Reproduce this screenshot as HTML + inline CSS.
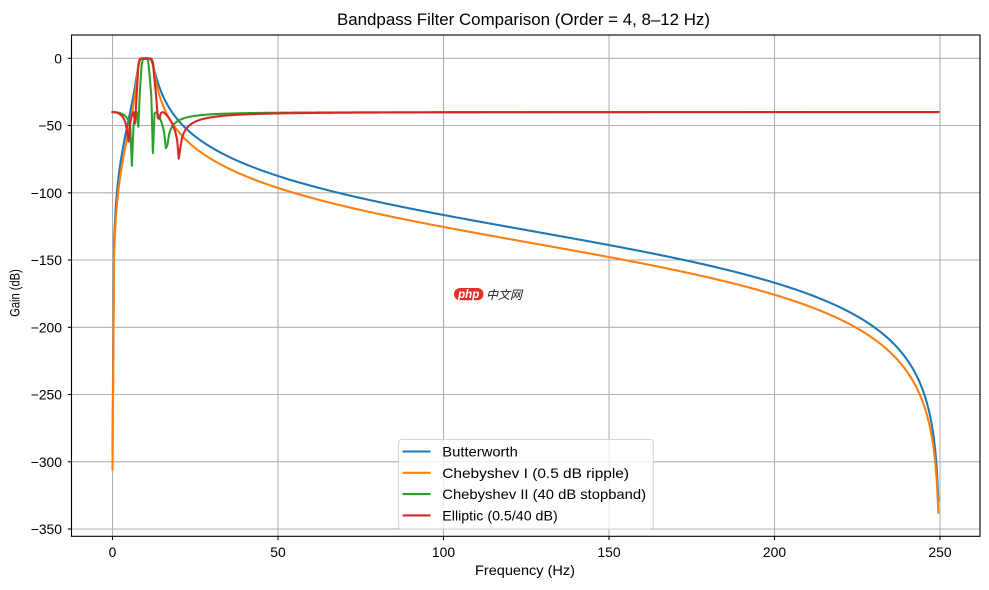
<!DOCTYPE html>
<html><head><meta charset="utf-8">
<style>
html,body{margin:0;padding:0;background:#fff;}
svg{display:block;}
text{font-family:"Liberation Sans","Noto Sans CJK SC",sans-serif;fill:#000;}
</style></head>
<body>
<svg id="s" width="989" height="590" viewBox="0 0 989 590" xmlns="http://www.w3.org/2000/svg">
<rect width="989" height="590" fill="#fff"/>
<defs><clipPath id="c"><rect x="71.5" y="35" width="908.5" height="501.3"/></clipPath></defs>
<g stroke="#b0b0b0" stroke-width="1.1">
<line x1="112.5" y1="35" x2="112.5" y2="536.3"/>
<line x1="278" y1="35" x2="278" y2="536.3"/>
<line x1="443.5" y1="35" x2="443.5" y2="536.3"/>
<line x1="609" y1="35" x2="609" y2="536.3"/>
<line x1="774.5" y1="35" x2="774.5" y2="536.3"/>
<line x1="940" y1="35" x2="940" y2="536.3"/>
<line x1="71.5" y1="58.3" x2="980" y2="58.3"/>
<line x1="71.5" y1="125.5" x2="980" y2="125.5"/>
<line x1="71.5" y1="192.8" x2="980" y2="192.8"/>
<line x1="71.5" y1="260" x2="980" y2="260"/>
<line x1="71.5" y1="327.3" x2="980" y2="327.3"/>
<line x1="71.5" y1="394.5" x2="980" y2="394.5"/>
<line x1="71.5" y1="461.8" x2="980" y2="461.8"/>
<line x1="71.5" y1="529" x2="980" y2="529"/>
</g>
<g id="curves" clip-path="url(#c)" fill="none" stroke-width="2.08" stroke-linejoin="round" stroke-linecap="square"></g>
<rect x="71.5" y="35" width="908.5" height="501.3" fill="none" stroke="#000" stroke-width="1.1"/>
<g stroke="#000" stroke-width="1.1">
<line x1="112.5" y1="536.3" x2="112.5" y2="540"/>
<line x1="278" y1="536.3" x2="278" y2="540"/>
<line x1="443.5" y1="536.3" x2="443.5" y2="540"/>
<line x1="609" y1="536.3" x2="609" y2="540"/>
<line x1="774.5" y1="536.3" x2="774.5" y2="540"/>
<line x1="940" y1="536.3" x2="940" y2="540"/>
<line x1="71.5" y1="58.3" x2="67.8" y2="58.3"/>
<line x1="71.5" y1="125.5" x2="67.8" y2="125.5"/>
<line x1="71.5" y1="192.8" x2="67.8" y2="192.8"/>
<line x1="71.5" y1="260" x2="67.8" y2="260"/>
<line x1="71.5" y1="327.3" x2="67.8" y2="327.3"/>
<line x1="71.5" y1="394.5" x2="67.8" y2="394.5"/>
<line x1="71.5" y1="461.8" x2="67.8" y2="461.8"/>
<line x1="71.5" y1="529" x2="67.8" y2="529"/>
</g>
<g font-size="13.9" text-anchor="middle">
<text x="112.5" y="557">0</text>
<text x="278" y="557">50</text>
<text x="443.5" y="557">100</text>
<text x="609" y="557">150</text>
<text x="774.5" y="557">200</text>
<text x="940" y="557">250</text>
</g>
<g font-size="13.9" text-anchor="end">
<text x="62" y="63.3">0</text>
<text x="62" y="130.5">−50</text>
<text x="62" y="197.8">−100</text>
<text x="62" y="265">−150</text>
<text x="62" y="332.3">−200</text>
<text x="62" y="399.5">−250</text>
<text x="62" y="466.8">−300</text>
<text x="62" y="534">−350</text>
</g>
<text x="523.5" y="25" font-size="16.7" text-anchor="middle" textLength="373" lengthAdjust="spacingAndGlyphs">Bandpass Filter Comparison (Order = 4, 8–12 Hz)</text>
<text x="525" y="575" font-size="13.9" text-anchor="middle" textLength="100" lengthAdjust="spacingAndGlyphs">Frequency (Hz)</text>
<text transform="translate(19.5,293) rotate(-90) scale(0.8,1)" x="0" y="0" font-size="13.9" text-anchor="middle">Gain (dB)</text>

<rect x="454" y="288" width="29.5" height="12.2" rx="6" fill="#e4312b"/>
<text x="468.7" y="297.8" font-size="11.5" font-style="italic" font-weight="bold" text-anchor="middle" style="fill:#fff">php</text>
<text x="486" y="299" font-size="12" font-style="italic" style="fill:#222" textLength="36" lengthAdjust="spacingAndGlyphs">中文网</text>

<rect x="398.5" y="439.5" width="254.8" height="89.5" rx="3" fill="#fff" fill-opacity="0.8" stroke="#cccccc" stroke-opacity="0.8" stroke-width="1.1"/>
<g stroke-width="2.08">
<line x1="402.5" y1="451.5" x2="430.5" y2="451.5" stroke="#1f77b4"/>
<line x1="402.5" y1="472.8" x2="430.5" y2="472.8" stroke="#ff7f0e"/>
<line x1="402.5" y1="494.1" x2="430.5" y2="494.1" stroke="#2ca02c"/>
<line x1="402.5" y1="515.4" x2="430.5" y2="515.4" stroke="#d62728"/>
</g>
<g font-size="13.9">
<text x="442.3" y="456.5" textLength="75.5" lengthAdjust="spacingAndGlyphs">Butterworth</text>
<text x="442.3" y="477.8" textLength="186.7" lengthAdjust="spacingAndGlyphs">Chebyshev I (0.5 dB ripple)</text>
<text x="442.3" y="499.1" textLength="203.7" lengthAdjust="spacingAndGlyphs">Chebyshev II (40 dB stopband)</text>
<text x="442.3" y="520.4" textLength="115.4" lengthAdjust="spacingAndGlyphs">Elliptic (0.5/40 dB)</text>
</g>
</svg>
<script>
(function(){
var K=Math.PI/500;
var O1=Math.tan(K*8),O2=Math.tan(K*12);
var w0s=O1*O2,BW=O2-O1;
function xlp(f){if(f<=0)return 1e12;var O=Math.tan(K*f);return Math.abs((O*O-w0s)/(O*BW));}
function T4(y){var y2=y*y;return 8*y2*y2-8*y2+1;}
var e1=Math.pow(10,0.05)-1;
var e2=1/(Math.pow(10,4)-1);
function R2(xi,x){var t=Math.sqrt(1-1/(xi*xi));var x2=x*x;return ((t+1)*x2-1)/((t-1)*x2+1);}
function R4(xi,x){var L2=R2(xi,xi);return R2(L2,R2(xi,x));}
var Lt=Math.sqrt((Math.pow(10,4)-1)/e1);
var lo=1.0001,hi=100;
for(var i=0;i<200;i++){var m=(lo+hi)/2;if(Math.abs(R4(m,m))<Lt)lo=m;else hi=m;}
var xi=(lo+hi)/2;
function cl(v){if(!isFinite(v)||isNaN(v))return -400;return Math.max(v,-400);}
function gB(f){var x=xlp(f);return cl(-10*Math.log10(1+Math.pow(x,8)));}
function gC1(f){var x=xlp(f);var T=T4(x);return cl(-10*Math.log10(1+e1*T*T));}
function gC2(f){var x=Math.max(xlp(f),1e-9);var T=T4(1/x);var a=e2*T*T;return cl(10*Math.log10(Math.max(a,1e-40)/(1+a)));}
function gE(f){var x=xlp(f);var R=R4(xi,x);return cl(-10*Math.log10(1+e1*R*R));}
function px(f){return 112.5+3.31*f;}
function py(v){return 58.3-1.3449*v;}
var N=512;
var fns=[[gB,'#1f77b4',-293],[gC1,'#ff7f0e',-306],[gC2,'#2ca02c',null],[gE,'#d62728',null]];
var g=document.getElementById('curves');
var ns='http://www.w3.org/2000/svg';
fns.forEach(function(s){
  var d='';
  for(var k=0;k<N;k++){
    var f=k*250/N;
    var v=s[0](f);
    if(k===0&&s[2]!==null)v=s[2];
    d+=(k===0?'M':'L')+px(f).toFixed(2)+' '+py(v).toFixed(2);
  }
  var p=document.createElementNS(ns,'path');
  p.setAttribute('d',d);p.setAttribute('stroke',s[1]);
  g.appendChild(p);
});
})();
</script>
</body></html>
